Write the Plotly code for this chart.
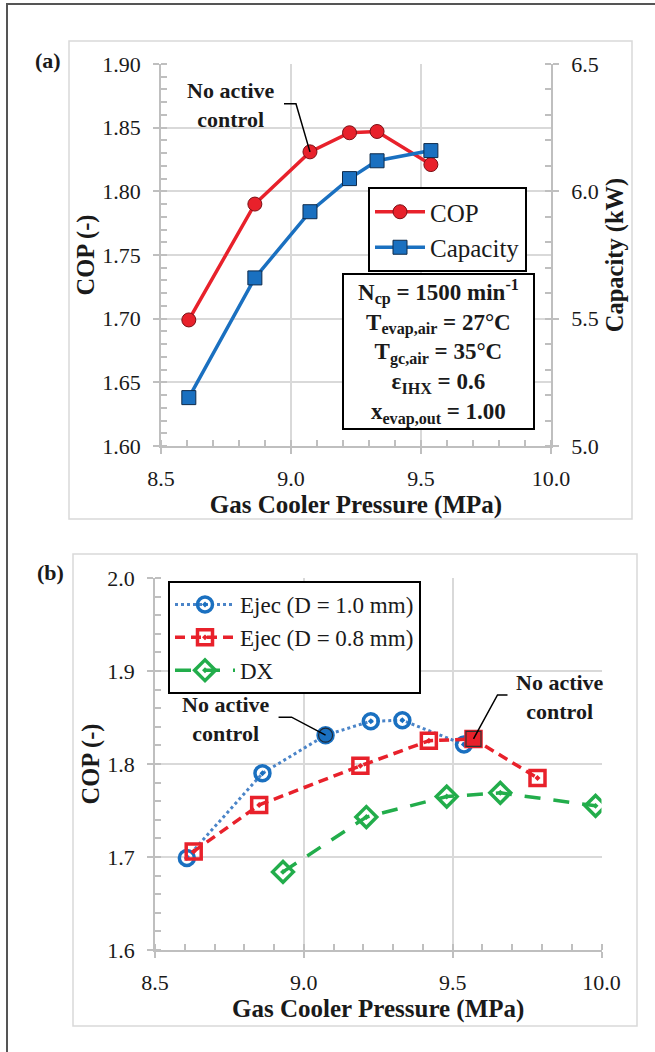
import plotly.graph_objects as go

W, H = 655, 1052

# ---------------- data ----------------
# Panel (a)
a_pressure = [8.607, 8.861, 9.073, 9.225, 9.331, 9.538]
a_cop = [1.699, 1.790, 1.831, 1.846, 1.847, 1.821]
a_capacity = [5.19, 5.66, 5.92, 6.05, 6.12, 6.16]

# Panel (b)
ej10_p = [8.607, 8.861, 9.073, 9.225, 9.331, 9.538]
ej10_cop = [1.699, 1.790, 1.831, 1.846, 1.847, 1.821]
ej08_p = [8.63, 8.85, 9.19, 9.42, 9.57, 9.785]
ej08_cop = [1.706, 1.756, 1.798, 1.825, 1.827, 1.785]
dx_p = [8.93, 9.21, 9.48, 9.66, 9.98]
dx_cop = [1.684, 1.743, 1.765, 1.769, 1.755]

a_x_ticks = [8.5, 9.0, 9.5, 10.0]
a_y_ticks = [1.60, 1.65, 1.70, 1.75, 1.80, 1.85, 1.90]
a_y2_ticks = [5.0, 5.5, 6.0, 6.5]
b_y_ticks = [1.6, 1.7, 1.8, 1.9, 2.0]

params_text = ("N<sub>cp</sub> = 1500 min<sup>-1</sup><br>"
               "T<sub>evap,air</sub> = 27°C<br>"
               "T<sub>gc,air</sub> = 35°C<br>"
               "ε<sub>IHX</sub> = 0.6<br>"
               "x<sub>evap,out</sub> = 1.00")

# --------------- helpers ---------------
def PX(x):
    return x / W

def PY(y):
    return 1 - y / H

SERIF = "Liberation Serif"
RED = "#e8212b"
BLUE = "#1a70c0"
BLUE_DOT = "#4a84c8"
GREEN = "#22ad4b"
GRID = "#d9d9d9"
AX = "#bfbfbf"
TXT = "#1a1a1a"

# plot area pixel boxes
A_X0, A_X1, A_Y0, A_Y1 = 161, 551, 64, 446
B_X0, B_X1, B_Y0, B_Y1 = 155, 601.5, 578, 950

fig = go.Figure()

# ---- panel (a) ----
fig.add_trace(go.Scatter(
    x=a_pressure, y=a_cop, name="COP", mode="lines+markers",
    line=dict(color=RED, width=3.5),
    marker=dict(symbol="circle", size=14, color=RED, line=dict(color="#7a1015", width=1)),
    xaxis="x", yaxis="y", legend="legend"))
fig.add_trace(go.Scatter(
    x=a_pressure, y=a_capacity, name="Capacity", mode="lines+markers",
    line=dict(color=BLUE, width=3.5),
    marker=dict(symbol="square", size=14, color=BLUE, line=dict(color="#0e2a4a", width=1)),
    xaxis="x", yaxis="y2", legend="legend"))

# ---- panel (b) ----
fig.add_trace(go.Scatter(
    x=ej10_p, y=ej10_cop, name="Ejec (D = 1.0 mm)", mode="lines+markers",
    line=dict(color=BLUE_DOT, width=3, dash="dot"),
    marker=dict(symbol="circle-open-dot", size=15, color=BLUE, line=dict(width=3.5)),
    xaxis="x2", yaxis="y3", legend="legend2"))
fig.add_trace(go.Scatter(
    x=ej08_p, y=ej08_cop, name="Ejec (D = 0.8 mm)", mode="lines+markers",
    line=dict(color=RED, width=3.5, dash="10px,6px"),
    marker=dict(symbol="square-open-dot", size=15, color=RED, line=dict(width=3.5)),
    xaxis="x2", yaxis="y3", legend="legend2"))
fig.add_trace(go.Scatter(
    x=dx_p, y=dx_cop, name="DX", mode="lines+markers",
    line=dict(color=GREEN, width=3.5, dash="16px,13px"),
    marker=dict(symbol="diamond-open-dot", size=16, color=GREEN, line=dict(width=3.5)),
    xaxis="x2", yaxis="y3", legend="legend2"))
# highlighted "no active control" points
fig.add_trace(go.Scatter(
    x=[ej10_p[2]], y=[ej10_cop[2]], mode="markers", showlegend=False,
    marker=dict(symbol="circle", size=14, color=BLUE, line=dict(color="#1c2a3a", width=1.2)),
    xaxis="x2", yaxis="y3"))
fig.add_trace(go.Scatter(
    x=[ej08_p[4]], y=[ej08_cop[4]], mode="markers", showlegend=False,
    marker=dict(symbol="square", size=15, color=RED, line=dict(color="#333333", width=1.2)),
    xaxis="x2", yaxis="y3"))

# ---- axes ----
def xaxis_common(domain, anchor, ticks_vals):
    return dict(
        domain=domain, anchor=anchor, range=[8.5, 10.0], automargin=False,
        tickvals=ticks_vals, ticktext=[f"{v:.1f}" for v in ticks_vals],
        showgrid=True, gridcolor=GRID, gridwidth=1.5,
        showline=True, linecolor=AX, linewidth=1.5, zeroline=False,
        ticks="outside", ticklen=6, tickcolor=AX, tickwidth=1.5,
        minor=dict(ticks="inside", ticklen=6, dtick=0.1, tick0=8.5, tickcolor=AX,
                   tickwidth=1.5, showgrid=False),
        tickfont=dict(family=SERIF, size=22, color=TXT),
        ticklabelstandoff=6,
        title=dict(text="<b>Gas Cooler Pressure (MPa)</b>",
                   font=dict(family=SERIF, size=25, color=TXT), standoff=3),
    )

layout = dict(
    width=W, height=H, margin=dict(l=0, r=0, t=0, b=0, autoexpand=False),
    paper_bgcolor="white", plot_bgcolor="white",
    xaxis=xaxis_common([PX(A_X0), PX(A_X1)], "y", a_x_ticks),
    yaxis=dict(
        domain=[PY(A_Y1), PY(A_Y0)], anchor="x", range=[1.60, 1.90], automargin=False,
        tickvals=a_y_ticks, ticktext=[f"{v:.2f}" for v in a_y_ticks],
        showgrid=True, gridcolor=GRID, gridwidth=1.5,
        showline=True, linecolor=AX, linewidth=1.5, zeroline=False,
        ticks="outside", ticklen=6, tickcolor=AX, tickwidth=1.5,
        minor=dict(ticks="inside", ticklen=6, dtick=0.01, tick0=1.6, tickcolor=AX,
                   tickwidth=1.5, showgrid=False),
        tickfont=dict(family=SERIF, size=22, color=TXT),
        ticklabelstandoff=8,
        title=dict(text="<b>COP (-)</b>", font=dict(family=SERIF, size=24.5, color=TXT),
                   standoff=1),
    ),
    yaxis2=dict(
        overlaying="y", side="right", anchor="x", range=[5.0, 6.5], automargin=False,
        tickvals=a_y2_ticks, ticktext=[f"{v:.1f}" for v in a_y2_ticks],
        showgrid=False, showline=True, linecolor=AX, linewidth=1.5, zeroline=False,
        ticks="outside", ticklen=6, tickcolor=AX, tickwidth=1.5,
        minor=dict(ticks="inside", ticklen=6, dtick=0.1, tick0=5.0, tickcolor=AX,
                   tickwidth=1.5, showgrid=False),
        tickfont=dict(family=SERIF, size=22, color=TXT),
        ticklabelstandoff=8,
        title=dict(text="<b>Capacity (kW)</b>", font=dict(family=SERIF, size=24.5, color=TXT),
                   standoff=8),
    ),
    xaxis2=xaxis_common([PX(B_X0), PX(B_X1)], "y3", a_x_ticks),
    yaxis3=dict(
        domain=[PY(B_Y1), PY(B_Y0)], anchor="x2", range=[1.6, 2.0], automargin=False,
        tickvals=b_y_ticks, ticktext=[f"{v:.1f}" for v in b_y_ticks],
        showgrid=True, gridcolor=GRID, gridwidth=1.5,
        showline=True, linecolor=AX, linewidth=1.5, zeroline=False,
        ticks="outside", ticklen=6, tickcolor=AX, tickwidth=1.5,
        minor=dict(ticks="inside", ticklen=6, dtick=0.02, tick0=1.6, tickcolor=AX,
                   tickwidth=1.5, showgrid=False),
        tickfont=dict(family=SERIF, size=22, color=TXT),
        ticklabelstandoff=8,
        title=dict(text="<b>COP (-)</b>", font=dict(family=SERIF, size=24.5, color=TXT),
                   standoff=1),
    ),
    legend=dict(
        x=PX(368), y=PY(187), xanchor="left", yanchor="top",
        bgcolor="white", bordercolor="black", borderwidth=2,
        font=dict(family=SERIF, size=25, color=TXT), itemwidth=50, tracegroupgap=0,
    ),
    legend2=dict(
        x=PX(168), y=PY(581), xanchor="left", yanchor="top",
        bgcolor="white", bordercolor="black", borderwidth=2,
        font=dict(family=SERIF, size=23, color=TXT), itemwidth=60, tracegroupgap=0,
    ),
)
fig.update_layout(**layout)

# ---- shapes: frames, text box, leader lines ----
shapes = []
# outer frame (left and top edges visible)
shapes.append(dict(type="path", xref="paper", yref="paper",
                   path=f"M {PX(7)},{PY(1100)} L {PX(7)},{PY(4)} L {PX(700)},{PY(4)}",
                   line=dict(color="#555555", width=2), layer="below"))
# panel frames
shapes.append(dict(type="rect", xref="paper", yref="paper",
                   x0=PX(69), x1=PX(632), y0=PY(519), y1=PY(41),
                   line=dict(color=GRID, width=1.5), layer="below"))
shapes.append(dict(type="rect", xref="paper", yref="paper",
                   x0=PX(73), x1=PX(637), y0=PY(1026), y1=PY(554),
                   line=dict(color=GRID, width=1.5), layer="below"))
# parameter box
shapes.append(dict(type="rect", xref="paper", yref="paper",
                   x0=PX(343), x1=PX(534), y0=PY(429), y1=PY(274),
                   line=dict(color="black", width=2), fillcolor="white", layer="above"))


def leader(xref, yref, xr, yr, pxw, pxh, px, py, offsets):
    pts = [(px, py)]
    for dx, dy in offsets:
        pts.append((px + dx * (xr[1] - xr[0]) / pxw, py - dy * (yr[1] - yr[0]) / pxh))
    path = "M " + " L ".join(f"{a},{b}" for a, b in pts)
    return dict(type="path", xref=xref, yref=yref, path=path,
                line=dict(color="black", width=1.5), layer="above")

shapes.append(leader("x", "y", [8.5, 10.0], [1.60, 1.90], A_X1 - A_X0, A_Y1 - A_Y0,
                     a_pressure[2], a_cop[2], [(-14, -48), (-26, -48)]))
shapes.append(leader("x2", "y3", [8.5, 10.0], [1.6, 2.0], B_X1 - B_X0, B_Y1 - B_Y0,
                     ej10_p[2], ej10_cop[2], [(-34, -18), (-47, -18)]))
shapes.append(leader("x2", "y3", [8.5, 10.0], [1.6, 2.0], B_X1 - B_X0, B_Y1 - B_Y0,
                     ej08_p[4], ej08_cop[4], [(24, -44), (34, -44)]))
fig.update_layout(shapes=shapes)

# ---- annotations ----
ann_font = dict(family=SERIF, size=22, color=TXT)
annotations = [
    dict(text="<b>(a)</b>", x=PX(48), y=PY(60), xref="paper", yref="paper",
         showarrow=False, font=ann_font, xanchor="center", yanchor="middle"),
    dict(text="<b>(b)</b>", x=PX(50), y=PY(572), xref="paper", yref="paper",
         showarrow=False, font=ann_font, xanchor="center", yanchor="middle"),
    dict(text="<b>No active<br>control</b>", x=PX(231), y=PY(105.5), xref="paper", yref="paper",
         showarrow=False, font=ann_font, xanchor="center", yanchor="middle"),
    dict(text="<b>No active<br>control</b>", x=PX(226), y=PY(719), xref="paper", yref="paper",
         showarrow=False, font=ann_font, xanchor="center", yanchor="middle"),
    dict(text="<b>No active<br>control</b>", x=PX(560), y=PY(697), xref="paper", yref="paper",
         showarrow=False, font=ann_font, xanchor="center", yanchor="middle"),
    dict(text="<b>" + params_text + "</b>", x=PX(438.5), y=PY(352), xref="paper", yref="paper",
         showarrow=False, font=dict(family=SERIF, size=23, color=TXT),
         xanchor="center", yanchor="middle", align="center"),
]
fig.update_layout(annotations=annotations)

fig.write_html("out.html",
               post_script="document.body.style.margin='0';document.body.style.padding='0';")
